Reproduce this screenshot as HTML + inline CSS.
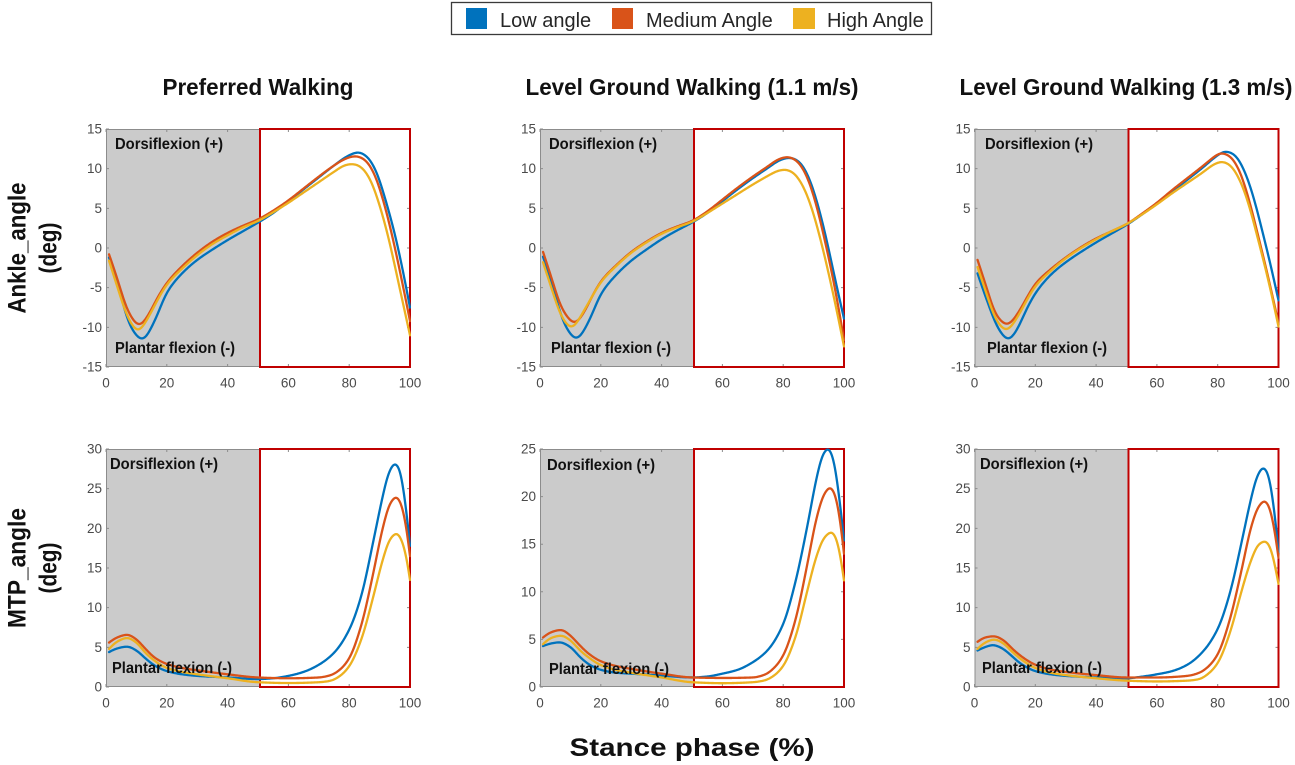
<!DOCTYPE html>
<html><head><meta charset="utf-8">
<style>
html,body{margin:0;padding:0;background:#fff;}
svg{display:block;font-family:"Liberation Sans",Arial,sans-serif;}
.tk{font-size:13.5px;fill:#4a4a4a;}
.ty{text-anchor:end;}
.tx{text-anchor:middle;}
.an{font-size:16px;font-weight:bold;fill:#111;}
.tt{font-size:23px;font-weight:bold;fill:#111;text-anchor:middle;}
.yl{font-size:25px;font-weight:bold;fill:#111;text-anchor:middle;}
.lg{font-size:20px;fill:#262626;}
</style></head><body>
<svg id="s" width="1295" height="765" viewBox="0 0 1295 765" xmlns="http://www.w3.org/2000/svg">
<defs><clipPath id="cp"><rect x="-1" y="-1" width="306" height="240"/></clipPath></defs>
<rect width="1295" height="765" fill="#fff"/>

<!-- legend -->
<rect x="451.5" y="2.5" width="480" height="32" fill="#fff" stroke="#3a3a3a" stroke-width="1.3"/>
<rect x="466" y="8" width="21" height="21" fill="#0072BD"/>
<text class="lg" x="500" y="27">Low angle</text>
<rect x="612" y="8" width="21" height="21" fill="#D95319"/>
<text class="lg" x="646" y="27">Medium Angle</text>
<rect x="793" y="8" width="22" height="21" fill="#EDB120"/>
<text class="lg" x="827" y="27">High Angle</text>

<!-- column titles -->
<text class="tt" x="258" y="95" textLength="191" lengthAdjust="spacingAndGlyphs">Preferred Walking</text>
<text class="tt" x="692" y="95" textLength="333" lengthAdjust="spacingAndGlyphs">Level Ground Walking (1.1 m/s)</text>
<text class="tt" x="1126" y="95" textLength="333" lengthAdjust="spacingAndGlyphs">Level Ground Walking (1.3 m/s)</text>

<!-- y axis titles -->
<text class="yl" transform="translate(25.5,248) rotate(-90)" textLength="131" lengthAdjust="spacingAndGlyphs">Ankle_angle</text>
<text class="yl" transform="translate(56.5,248) rotate(-90)" textLength="51" lengthAdjust="spacingAndGlyphs">(deg)</text>
<text class="yl" transform="translate(25.5,568) rotate(-90)" textLength="120" lengthAdjust="spacingAndGlyphs">MTP_angle</text>
<text class="yl" transform="translate(56.5,568) rotate(-90)" textLength="51" lengthAdjust="spacingAndGlyphs">(deg)</text>

<!-- x axis title -->
<text class="tt" style="font-size:25px" x="692" y="756" textLength="245" lengthAdjust="spacingAndGlyphs">Stance phase (%)</text>

<!-- panel 1 -->
<g id="p1" transform="translate(106,129)">
<text class="tk ty" x="-4" y="4.5">15</text>
<text class="tk ty" x="-4" y="44.2">10</text>
<text class="tk ty" x="-4" y="83.8">5</text>
<text class="tk ty" x="-4" y="123.5">0</text>
<text class="tk ty" x="-4" y="163.2">-5</text>
<text class="tk ty" x="-4" y="202.8">-10</text>
<text class="tk ty" x="-4" y="242.5">-15</text>
<text class="tk tx" x="0" y="258.5">0</text>
<text class="tk tx" x="60.8" y="258.5">20</text>
<text class="tk tx" x="121.6" y="258.5">40</text>
<text class="tk tx" x="182.4" y="258.5">60</text>
<text class="tk tx" x="243.2" y="258.5">80</text>
<text class="tk tx" x="304" y="258.5">100</text>
<text class="an" x="9" y="20" textLength="108" lengthAdjust="spacingAndGlyphs">Dorsiflexion (+)</text>
<text class="an" x="9" y="224" textLength="120" lengthAdjust="spacingAndGlyphs">Plantar flexion (-)</text>
</g>

<!-- panel 2 -->
<g id="p2" transform="translate(540,129)">
<text class="tk ty" x="-4" y="4.5">15</text>
<text class="tk ty" x="-4" y="44.2">10</text>
<text class="tk ty" x="-4" y="83.8">5</text>
<text class="tk ty" x="-4" y="123.5">0</text>
<text class="tk ty" x="-4" y="163.2">-5</text>
<text class="tk ty" x="-4" y="202.8">-10</text>
<text class="tk ty" x="-4" y="242.5">-15</text>
<text class="tk tx" x="0" y="258.5">0</text>
<text class="tk tx" x="60.8" y="258.5">20</text>
<text class="tk tx" x="121.6" y="258.5">40</text>
<text class="tk tx" x="182.4" y="258.5">60</text>
<text class="tk tx" x="243.2" y="258.5">80</text>
<text class="tk tx" x="304" y="258.5">100</text>
<text class="an" x="9" y="20" textLength="108" lengthAdjust="spacingAndGlyphs">Dorsiflexion (+)</text>
<text class="an" x="11" y="224" textLength="120" lengthAdjust="spacingAndGlyphs">Plantar flexion (-)</text>
</g>

<!-- panel 3 -->
<g id="p3" transform="translate(974.5,129)">
<text class="tk ty" x="-4" y="4.5">15</text>
<text class="tk ty" x="-4" y="44.2">10</text>
<text class="tk ty" x="-4" y="83.8">5</text>
<text class="tk ty" x="-4" y="123.5">0</text>
<text class="tk ty" x="-4" y="163.2">-5</text>
<text class="tk ty" x="-4" y="202.8">-10</text>
<text class="tk ty" x="-4" y="242.5">-15</text>
<text class="tk tx" x="0" y="258.5">0</text>
<text class="tk tx" x="60.8" y="258.5">20</text>
<text class="tk tx" x="121.6" y="258.5">40</text>
<text class="tk tx" x="182.4" y="258.5">60</text>
<text class="tk tx" x="243.2" y="258.5">80</text>
<text class="tk tx" x="304" y="258.5">100</text>
<text class="an" x="10.5" y="20" textLength="108" lengthAdjust="spacingAndGlyphs">Dorsiflexion (+)</text>
<text class="an" x="12.5" y="224" textLength="120" lengthAdjust="spacingAndGlyphs">Plantar flexion (-)</text>
</g>

<!-- panel 4 -->
<g id="p4" transform="translate(106,449)">
<text class="tk ty" x="-4" y="4.5">30</text>
<text class="tk ty" x="-4" y="44.2">25</text>
<text class="tk ty" x="-4" y="83.8">20</text>
<text class="tk ty" x="-4" y="123.5">15</text>
<text class="tk ty" x="-4" y="163.2">10</text>
<text class="tk ty" x="-4" y="202.8">5</text>
<text class="tk ty" x="-4" y="242.5">0</text>
<text class="tk tx" x="0" y="258.5">0</text>
<text class="tk tx" x="60.8" y="258.5">20</text>
<text class="tk tx" x="121.6" y="258.5">40</text>
<text class="tk tx" x="182.4" y="258.5">60</text>
<text class="tk tx" x="243.2" y="258.5">80</text>
<text class="tk tx" x="304" y="258.5">100</text>
<text class="an" x="4" y="20" textLength="108" lengthAdjust="spacingAndGlyphs">Dorsiflexion (+)</text>
<text class="an" x="6" y="224" textLength="120" lengthAdjust="spacingAndGlyphs">Plantar flexion (-)</text>
</g>

<!-- panel 5 -->
<g id="p5" transform="translate(540,449)">
<text class="tk ty" x="-4" y="4.5">25</text>
<text class="tk ty" x="-4" y="52.1">20</text>
<text class="tk ty" x="-4" y="99.7">15</text>
<text class="tk ty" x="-4" y="147.3">10</text>
<text class="tk ty" x="-4" y="194.9">5</text>
<text class="tk ty" x="-4" y="242.5">0</text>
<text class="tk tx" x="0" y="258.5">0</text>
<text class="tk tx" x="60.8" y="258.5">20</text>
<text class="tk tx" x="121.6" y="258.5">40</text>
<text class="tk tx" x="182.4" y="258.5">60</text>
<text class="tk tx" x="243.2" y="258.5">80</text>
<text class="tk tx" x="304" y="258.5">100</text>
<text class="an" x="7" y="21" textLength="108" lengthAdjust="spacingAndGlyphs">Dorsiflexion (+)</text>
<text class="an" x="9" y="225" textLength="120" lengthAdjust="spacingAndGlyphs">Plantar flexion (-)</text>
</g>

<!-- panel 6 -->
<g id="p6" transform="translate(974.5,449)">
<text class="tk ty" x="-4" y="4.5">30</text>
<text class="tk ty" x="-4" y="44.2">25</text>
<text class="tk ty" x="-4" y="83.8">20</text>
<text class="tk ty" x="-4" y="123.5">15</text>
<text class="tk ty" x="-4" y="163.2">10</text>
<text class="tk ty" x="-4" y="202.8">5</text>
<text class="tk ty" x="-4" y="242.5">0</text>
<text class="tk tx" x="0" y="258.5">0</text>
<text class="tk tx" x="60.8" y="258.5">20</text>
<text class="tk tx" x="121.6" y="258.5">40</text>
<text class="tk tx" x="182.4" y="258.5">60</text>
<text class="tk tx" x="243.2" y="258.5">80</text>
<text class="tk tx" x="304" y="258.5">100</text>
<text class="an" x="5.5" y="20" textLength="108" lengthAdjust="spacingAndGlyphs">Dorsiflexion (+)</text>
<text class="an" x="7.5" y="224" textLength="120" lengthAdjust="spacingAndGlyphs">Plantar flexion (-)</text>
</g>
</svg>

<script>
(function(){
var NS='http://www.w3.org/2000/svg';
var W=304,H=238,RB=154;
var C=['#0072BD','#D95319','#EDB120'];
function el(t,a){var e=document.createElementNS(NS,t);for(var k in a)e.setAttribute(k,a[k]);return e;}
var P=[
{id:'p1',min:-15,max:15,sg:1.1,yt:[-15,-10,-5,0,5,10,15],s:[
[[1,-1.2],[4,-4.8],[8,-9.9],[12,-11.6],[16,-9.2],[20,-5.6],[25,-3.2],[30,-1.5],[35,-0.2],[40,1.0],[45,2.1],[50,3.2],[55,4.4],[60,5.9],[65,7.4],[70,8.9],[75,10.4],[80,11.7],[83,12.1],[86,11.5],[89,9.6],[92,6.0],[95,1.8],[98,-3.5],[100,-7.5]],
[[1,-0.8],[4,-4.2],[7,-7.8],[11,-9.8],[14,-8.4],[17,-6.2],[20,-4.4],[25,-2.3],[30,-0.6],[35,0.8],[40,1.9],[45,2.8],[50,3.6],[55,4.7],[60,6.0],[65,7.5],[70,9.0],[75,10.4],[79,11.3],[82,11.6],[85,11.2],[88,9.6],[91,6.3],[94,1.8],[97,-3.5],[100,-9.2]],
[[1,-1.6],[4,-5.2],[7,-8.6],[10.5,-10.5],[14,-8.7],[17,-6.5],[20,-4.6],[25,-2.6],[30,-0.9],[35,0.5],[40,1.6],[45,2.6],[50,3.4],[55,4.5],[60,5.7],[65,7.0],[70,8.3],[75,9.6],[79,10.5],[81.5,10.6],[84,10.2],[87,8.6],[90,5.4],[93,1.2],[96,-4.0],[100,-11]]
]},
{id:'p2',min:-15,max:15,sg:1.1,yt:[-15,-10,-5,0,5,10,15],s:[
[[1,-1.1],[4,-4.6],[8,-9.6],[12,-11.5],[16,-9.3],[20,-5.8],[25,-3.4],[30,-1.6],[35,-0.2],[40,1.1],[45,2.2],[50,3.2],[55,4.4],[60,5.9],[65,7.4],[70,8.8],[75,10.1],[79,11.1],[82,11.4],[85,11.0],[88,9.3],[91,6.0],[94,1.5],[97,-3.8],[100,-8.9]],
[[1,-0.5],[4,-4.0],[7,-7.5],[11.5,-9.5],[14.5,-8.1],[17,-6.2],[20,-4.2],[25,-2.2],[30,-0.5],[35,0.8],[40,1.9],[45,2.7],[50,3.4],[55,4.6],[60,6.1],[65,7.6],[70,9.0],[75,10.3],[78.5,11.2],[81.5,11.5],[84.5,11.0],[87.5,9.3],[90.5,6.0],[93.5,1.3],[97,-5.0],[100,-11.6]],
[[1,-1.8],[4,-5.3],[7,-8.6],[10.4,-10.1],[14,-8.2],[17,-6.2],[20,-4.3],[25,-2.3],[30,-0.6],[35,0.7],[40,1.8],[45,2.6],[50,3.3],[55,4.4],[60,5.6],[65,6.8],[70,8.0],[75,9.1],[78,9.7],[80.5,9.9],[83,9.6],[86,8.2],[89,5.5],[92,1.5],[96,-5],[100,-12.4]]
]},
{id:'p3',min:-15,max:15,sg:1.1,yt:[-15,-10,-5,0,5,10,15],s:[
[[1,-3.2],[4,-6.5],[8,-10.3],[11.2,-11.6],[14,-10.3],[17,-7.8],[20,-5.7],[25,-3.4],[30,-1.8],[35,-0.5],[40,0.7],[45,1.8],[50,2.9],[55,4.2],[60,5.6],[65,7.1],[70,8.6],[75,10.1],[79,11.4],[82.5,12.2],[85.5,11.8],[88.5,10.0],[91.5,6.8],[94.5,2.4],[97.5,-2.3],[100,-6.6]],
[[1,-1.5],[4,-5.0],[7,-8.4],[10.8,-9.7],[14,-8.4],[17,-6.4],[20,-4.5],[25,-2.7],[30,-1.2],[35,0.1],[40,1.2],[45,2.1],[50,3.0],[55,4.3],[60,5.7],[65,7.3],[70,8.8],[75,10.3],[78.5,11.4],[81,12.0],[84,11.6],[87,9.9],[90,6.5],[93,2.0],[96.5,-3.5],[100,-9.5]],
[[1,-2.4],[4,-5.8],[7,-9.0],[10.5,-10.4],[14,-8.8],[17,-6.7],[20,-4.8],[25,-2.9],[30,-1.3],[35,0.0],[40,1.1],[45,2.1],[50,3.0],[55,4.2],[60,5.5],[65,6.9],[70,8.2],[75,9.5],[79,10.6],[81.4,10.9],[84,10.5],[87,8.8],[90,5.8],[93,1.5],[96.5,-3.8],[100,-9.9]]
]},
{id:'p4',min:0,max:30,sg:0.7,yt:[0,5,10,15,20,25,30],s:[
[[1,4.4],[4,4.9],[7,5.1],[10,4.6],[13,3.6],[16,2.7],[20,2.0],[25,1.6],[30,1.4],[40,1.2],[50,1.0],[55,1.1],[60,1.4],[65,1.9],[70,2.8],[75,4.3],[80,7.2],[84,11.5],[88,18.5],[91,24.0],[93,27.0],[95,28.2],[96.5,27.6],[98,24.5],[100,17.8]],
[[1,5.6],[4,6.3],[7,6.6],[10,6.0],[13,4.8],[16,3.7],[20,2.9],[25,2.4],[30,2.1],[40,1.6],[50,1.2],[60,1.1],[70,1.2],[74,1.5],[77,2.2],[80,3.6],[84,7.8],[88,14.5],[91,20.0],[93.5,23.2],[95.5,24.0],[97,23.2],[98.5,20.8],[100,16.5]],
[[1,4.8],[4,5.8],[7,6.2],[10,5.6],[13,4.3],[16,3.3],[20,2.4],[25,1.9],[30,1.6],[40,1.1],[50,0.6],[60,0.5],[70,0.6],[74,0.8],[77,1.4],[80,2.6],[84,6.0],[88,11.5],[91,16.0],[93.5,18.7],[95.7,19.4],[97.5,18.3],[99,16.0],[100,13.5]]
]},
{id:'p5',min:0,max:25,sg:0.7,yt:[0,5,10,15,20,25],s:[
[[1,4.3],[4,4.6],[6.5,4.7],[10,4.2],[13,3.2],[16,2.4],[20,1.8],[25,1.5],[30,1.4],[40,1.2],[50,1.0],[55,1.1],[60,1.4],[65,1.8],[70,2.6],[75,3.9],[80,6.6],[84,11.0],[88,17.0],[91,22.0],[93,24.4],[94.8,25.1],[96.5,24.0],[98,21.0],[100,15.4]],
[[1,5.2],[4,5.8],[7,6.0],[10,5.4],[13,4.4],[16,3.5],[20,2.7],[25,2.2],[30,1.9],[40,1.4],[50,1.0],[60,0.95],[70,1.0],[74,1.3],[77,2.0],[80,3.3],[84,7.0],[88,13.0],[91,17.8],[93.5,20.3],[95.5,21.0],[97,20.3],[98.5,18.0],[100,14.0]],
[[1,4.5],[4,5.2],[7,5.4],[10,4.9],[13,3.9],[16,3.1],[20,2.3],[25,1.8],[30,1.5],[40,1.0],[50,0.5],[60,0.4],[70,0.5],[74,0.7],[77,1.2],[80,2.2],[84,5.2],[88,10.2],[91,13.8],[93.5,15.7],[96,16.3],[97.5,15.6],[99,13.4],[100,11.2]]
]},
{id:'p6',min:0,max:30,sg:0.7,yt:[0,5,10,15,20,25,30],s:[
[[1,4.6],[4,5.1],[6,5.3],[9,4.9],[12,4.0],[15,3.0],[20,2.0],[25,1.6],[30,1.4],[40,1.2],[50,1.1],[55,1.3],[60,1.6],[65,2.0],[70,2.8],[75,4.4],[80,7.3],[84,11.8],[88,18.5],[91,23.8],[93,26.6],[95,27.7],[96.5,27.0],[98,24.0],[100,17.0]],
[[1,5.7],[4,6.3],[6.5,6.4],[9.5,5.9],[12.5,4.8],[16,3.7],[20,2.8],[25,2.2],[30,1.9],[40,1.5],[50,1.2],[60,1.2],[70,1.4],[74,1.8],[77,2.6],[80,4.1],[84,8.5],[88,15.0],[91,20.2],[93.5,22.8],[95.5,23.5],[97,22.7],[98.5,20.2],[100,16.3]],
[[1,4.8],[4,5.7],[6.5,6.0],[9.5,5.5],[12.5,4.4],[16,3.3],[20,2.4],[25,1.8],[30,1.5],[40,1.1],[50,0.8],[60,0.7],[70,0.8],[74,1.0],[77,1.7],[80,3.0],[84,6.8],[88,12.3],[91,16.0],[93.5,18.0],[95.8,18.4],[97.5,17.4],[99,15.0],[100,13.0]]
]}
];
function endSlope(h0,h1,d0,d1){
  var m=((2*h0+h1)*d0-h0*d1)/(h0+h1);
  if(Math.sign(m)!==Math.sign(d0)) m=0;
  else if(Math.sign(d0)!==Math.sign(d1)&&Math.abs(m)>Math.abs(3*d0)) m=3*d0;
  return m;
}
function sample(pts,step){
  var n=pts.length,x=[],y=[],h=[],d=[],m=[],i;
  for(i=0;i<n;i++){x.push(pts[i][0]);y.push(pts[i][1]);}
  for(i=0;i<n-1;i++){h[i]=x[i+1]-x[i];d[i]=(y[i+1]-y[i])/h[i];}
  for(i=1;i<n-1;i++){
    if(d[i-1]*d[i]<=0) m[i]=0;
    else{var w1=2*h[i]+h[i-1],w2=h[i]+2*h[i-1];m[i]=(w1+w2)/(w1/d[i-1]+w2/d[i]);}
  }
  m[0]=endSlope(h[0],h[1],d[0],d[1]);
  m[n-1]=endSlope(h[n-2],h[n-3],d[n-2],d[n-3]);
  var xs=[],ys=[],seg=0;
  for(var xv=x[0];xv<=x[n-1]+1e-9;xv+=step){
    while(seg<n-2&&xv>x[seg+1])seg++;
    var hh=h[seg],t=(xv-x[seg])/hh,t2=t*t,t3=t2*t;
    var v=(2*t3-3*t2+1)*y[seg]+(t3-2*t2+t)*hh*m[seg]+(-2*t3+3*t2)*y[seg+1]+(t3-t2)*hh*m[seg+1];
    xs.push(xv);ys.push(v);
  }
  return [xs,ys];
}
function smooth(ys,sigSamples){
  var n=ys.length,R=Math.ceil(sigSamples*3),out=[],w=[],k;
  for(k=-R;k<=R;k++)w.push(Math.exp(-k*k/(2*sigSamples*sigSamples)));
  function get(i){
    if(i<0)return 2*ys[0]-ys[-i];
    if(i>n-1)return 2*ys[n-1]-ys[2*(n-1)-i];
    return ys[i];
  }
  for(var i=0;i<n;i++){
    var s=0,ws=0;
    for(k=-R;k<=R;k++){s+=w[k+R]*get(i+k);ws+=w[k+R];}
    out.push(s/ws);
  }
  return out;
}
P.forEach(function(p){
  var g=document.getElementById(p.id);
  var sub=el('g',{});
  var sx=function(v){return (v*3.04).toFixed(2);};
  var sy=function(v){return ((p.max-v)/(p.max-p.min)*H).toFixed(2);};
  sub.appendChild(el('rect',{x:0,y:0,width:RB,height:H,fill:'#cbcbcb'}));
  sub.appendChild(el('rect',{x:0.5,y:0.5,width:W-1,height:H-1,fill:'none',stroke:'#8c8c8c','stroke-width':1}));
  var tk='';
  for(var k=0;k<=5;k++){var xx=(k*60.8).toFixed(1);tk+='M'+xx+','+H+'v-3M'+xx+',0v3';}
  p.yt.forEach(function(v){var yy=sy(v);tk+='M0,'+yy+'h3M'+W+','+yy+'h-3';});
  sub.appendChild(el('path',{d:tk,stroke:'#8c8c8c','stroke-width':1,fill:'none'}));
  sub.appendChild(el('rect',{x:RB,y:0,width:W-RB,height:H,fill:'none',stroke:'#c00000','stroke-width':2}));
  var cg=el('g',{'clip-path':'url(#cp)'});
  var step=0.25;
  p.s.forEach(function(ser,j){
    var r=sample(ser,step);
    var ys=smooth(r[1],p.sg/step);
    var d='';
    for(var i=0;i<r[0].length;i++){d+=(i?'L':'M')+sx(r[0][i])+','+sy(ys[i]);}
    cg.appendChild(el('path',{d:d,fill:'none',stroke:C[j],'stroke-width':2.3,'stroke-linejoin':'round','stroke-linecap':'round'}));
  });
  sub.appendChild(cg);
  g.insertBefore(sub,g.firstChild);
});
})();
</script>
</body></html>
